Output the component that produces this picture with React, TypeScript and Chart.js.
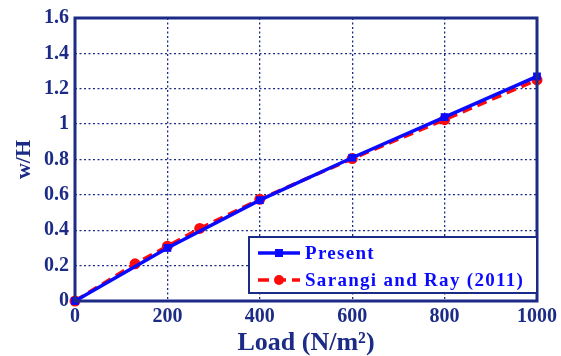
import React, { useEffect, useRef } from "react";
import { Chart, registerables } from "chart.js";

Chart.register(...registerables);

// Mid-point deflection ratio versus applied load
const presentLoad = [0, 200, 400, 600, 800, 1000];
const presentWH = [0, 0.3, 0.57, 0.81, 1.04, 1.27];

const sarangiLoad = [0, 130, 200, 270, 400, 600, 800, 1000];
const sarangiWH = [0, 0.21, 0.31, 0.41, 0.575, 0.805, 1.025, 1.25];

const seriesNames = ["Present", "Sarangi and Ray (2011)"];
const xTitle = "Load (N/m\u00B2)";
const yTitle = "w/H";

const NAVY = "#1c2b86";
const BLUE = "#0a0aff";
const RED = "#ff0a0a";
const FONT = "'Liberation Serif', 'Times New Roman', serif";

const framePlugin = {
  id: "frameAndLegend",
  afterDatasetsDraw(chart: any) {
    const { ctx, chartArea: a } = chart;
    ctx.save();
    // axes box
    ctx.strokeStyle = NAVY;
    ctx.lineWidth = 3;
    ctx.strokeRect(a.left, a.top, a.right - a.left, a.bottom - a.top);

    // legend box inside the plot
    const lx = 249, ly = 237, lw = 288, lh = 56;
    ctx.fillStyle = "#ffffff";
    ctx.fillRect(lx, ly, lw, lh);
    ctx.lineWidth = 2;
    ctx.strokeStyle = NAVY;
    ctx.strokeRect(lx, ly, lw, lh);

    const rows = [
      { y: ly + 16, color: BLUE, dash: [] as number[], marker: "square", label: seriesNames[0] },
      { y: ly + 43, color: RED, dash: [11, 6], marker: "circle", label: seriesNames[1] },
    ];
    rows.forEach((r) => {
      ctx.strokeStyle = r.color;
      ctx.lineWidth = 3.5;
      ctx.setLineDash(r.dash);
      ctx.beginPath();
      ctx.moveTo(lx + 9, r.y);
      ctx.lineTo(lx + 51, r.y);
      ctx.stroke();
      ctx.setLineDash([]);
      ctx.fillStyle = r.color;
      const cx = lx + 30;
      if (r.marker === "square") {
        ctx.fillRect(cx - 4, r.y - 4, 8, 8);
      } else {
        ctx.beginPath();
        ctx.arc(cx, r.y, 5, 0, Math.PI * 2);
        ctx.fill();
      }
      ctx.fillStyle = BLUE;
      ctx.font = `bold 19px ${FONT}`;
      (ctx as any).letterSpacing = "1.3px";
      ctx.textBaseline = "middle";
      ctx.textAlign = "left";
      ctx.fillText(r.label, lx + 56, r.y + 1);
      (ctx as any).letterSpacing = "0px";
    });
    ctx.restore();
  },
};

export default function App() {
  const ref = useRef<HTMLCanvasElement | null>(null);

  useEffect(() => {
    if (!ref.current) return;
    const chart = new Chart(ref.current, {
      type: "line",
      data: {
        datasets: [
          {
            label: seriesNames[0],
            data: presentLoad.map((x, i) => ({ x, y: presentWH[i] })),
            borderColor: BLUE,
            backgroundColor: BLUE,
            borderWidth: 3.5,
            pointStyle: "rect",
            pointRadius: 5.5,
            pointBorderWidth: 0,
            tension: 0,
            clip: false,
          },
          {
            label: seriesNames[1],
            data: sarangiLoad.map((x, i) => ({ x, y: sarangiWH[i] })),
            borderColor: RED,
            backgroundColor: RED,
            borderWidth: 3.5,
            borderDash: [10, 6],
            pointStyle: "circle",
            pointRadius: 5.5,
            pointBorderWidth: 0,
            tension: 0,
            clip: false,
          },
        ],
      },
      options: {
        responsive: false,
        animation: false,
        layout: { padding: { top: 16, right: 23, left: 0, bottom: 0 } },
        plugins: { legend: { display: false }, tooltip: { enabled: false } },
        scales: {
          x: {
            type: "linear",
            min: 0,
            max: 1000,
            afterFit: (s: any) => {
              s.height = 55;
            },
            ticks: {
              stepSize: 200,
              color: NAVY,
              font: { family: FONT, size: 20, weight: "bold" },
              padding: 4,
              maxRotation: 0,
              callback: (v: any) => String(v),
            },
            grid: {
              color: NAVY,
              lineWidth: 1.3,
              drawTicks: false,
            },
            border: { display: false, dash: [2, 2.5] },
            title: {
              display: true,
              text: xTitle,
              color: NAVY,
              font: { family: FONT, size: 26, weight: "bold", lineHeight: 1 },
              padding: { top: 0, bottom: 0 },
            },
          },
          y: {
            type: "linear",
            min: 0,
            max: 1.6,
            afterFit: (s: any) => {
              s.width = 75;
            },
            ticks: {
              stepSize: 0.2,
              color: NAVY,
              font: { family: FONT, size: 20, weight: "bold" },
              padding: 6,
              callback: (v: any) => String(Math.round(v * 10) / 10),
            },
            grid: {
              color: NAVY,
              lineWidth: 1.3,
              drawTicks: false,
            },
            border: { display: false, dash: [2, 2.5] },
            title: {
              display: true,
              text: yTitle,
              color: NAVY,
              font: { family: FONT, size: 22, weight: "bold", lineHeight: 1.2 },
              padding: { top: 11, bottom: 0 },
            },
          },
        },
      },
      plugins: [framePlugin],
    } as any);
    return () => chart.destroy();
  }, []);

  return (
    <div style={{ position: "fixed", left: 0, top: 0, width: 561, height: 356, background: "#fff" }}>
      <canvas ref={ref} width={561} height={356} />
    </div>
  );
}
